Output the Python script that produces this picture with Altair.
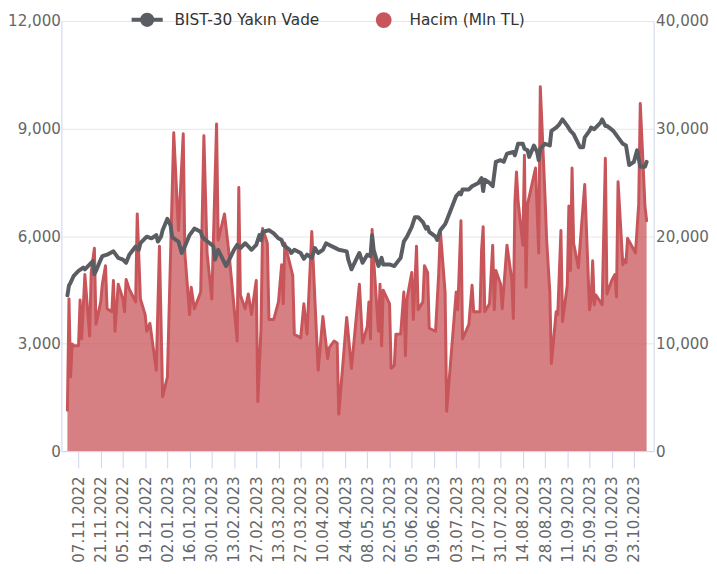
import altair as alt
import pandas as pd

BIST_NAME = "BIST-30 Yakın Vade"
VOL_NAME = "Hacim (Mln TL)"

bist_dates = [
    "2022-10-31", "2022-11-01", "2022-11-02", "2022-11-04", "2022-11-07", "2022-11-10", "2022-11-11",
    "2022-11-15", "2022-11-16", "2022-11-17", "2022-11-18", "2022-11-21", "2022-11-22", "2022-11-25",
    "2022-11-29", "2022-12-02", "2022-12-05", "2022-12-07", "2022-12-09", "2022-12-13", "2022-12-15",
    "2022-12-16", "2022-12-20", "2022-12-23", "2022-12-26", "2022-12-27", "2022-12-29", "2022-12-30",
    "2023-01-02", "2023-01-04", "2023-01-05", "2023-01-06", "2023-01-09", "2023-01-11", "2023-01-13",
    "2023-01-16", "2023-01-19", "2023-01-23", "2023-01-24", "2023-01-26", "2023-01-30", "2023-01-31",
    "2023-02-01", "2023-02-03", "2023-02-06", "2023-02-08", "2023-02-10", "2023-02-13", "2023-02-15",
    "2023-02-17", "2023-02-20", "2023-02-22", "2023-02-24", "2023-02-27", "2023-03-01", "2023-03-02",
    "2023-03-03", "2023-03-07", "2023-03-10", "2023-03-13", "2023-03-15", "2023-03-16", "2023-03-20",
    "2023-03-21", "2023-03-23", "2023-03-27", "2023-03-29", "2023-03-31", "2023-04-03", "2023-04-05",
    "2023-04-07", "2023-04-10", "2023-04-12", "2023-04-14", "2023-04-18", "2023-04-20", "2023-04-25",
    "2023-04-26", "2023-04-28", "2023-05-02", "2023-05-03", "2023-05-05", "2023-05-08", "2023-05-10",
    "2023-05-11", "2023-05-12", "2023-05-15", "2023-05-17", "2023-05-18", "2023-05-22", "2023-05-25",
    "2023-05-29", "2023-05-31", "2023-06-02", "2023-06-05", "2023-06-07", "2023-06-09", "2023-06-12",
    "2023-06-14", "2023-06-15", "2023-06-16", "2023-06-20", "2023-06-21", "2023-06-23", "2023-06-26",
    "2023-06-27", "2023-07-03", "2023-07-05", "2023-07-06", "2023-07-07", "2023-07-11", "2023-07-13",
    "2023-07-17", "2023-07-19", "2023-07-20", "2023-07-21", "2023-07-24", "2023-07-26", "2023-07-28",
    "2023-07-31", "2023-08-02", "2023-08-04", "2023-08-08", "2023-08-09", "2023-08-11", "2023-08-14",
    "2023-08-15", "2023-08-17", "2023-08-18", "2023-08-21", "2023-08-23", "2023-08-24", "2023-08-25",
    "2023-08-28", "2023-08-31", "2023-09-01", "2023-09-04", "2023-09-06", "2023-09-08", "2023-09-11",
    "2023-09-13", "2023-09-15", "2023-09-18", "2023-09-19", "2023-09-21", "2023-09-22", "2023-09-25",
    "2023-09-26", "2023-09-28", "2023-10-02", "2023-10-03", "2023-10-05", "2023-10-06", "2023-10-10",
    "2023-10-13", "2023-10-16", "2023-10-18", "2023-10-19", "2023-10-20", "2023-10-23", "2023-10-25",
    "2023-10-26", "2023-10-27", "2023-10-30", "2023-10-31",
]
bist_values = [
    4347, 4620, 4700, 4892, 5029, 5119, 5072,
    5255, 5301, 4936, 5029, 5345, 5438, 5481,
    5574, 5391, 5345, 5255, 5481, 5710, 5618,
    5800, 5983, 5937, 6027, 5847, 5983, 6163,
    6482, 6299, 5983, 5937, 5847, 5528, 5710,
    6027, 6209, 6119, 5983, 5890, 5754, 5710,
    5345, 5618, 5345, 5165, 5345, 5618, 5754,
    5664, 5800, 5710, 5618, 5754, 6027, 5890,
    6119, 6163, 6073, 5937, 5890, 5754, 5618,
    5528, 5618, 5528, 5364, 5481, 5391, 5664,
    5528, 5618, 5800, 5754, 5664, 5618, 5574,
    5345, 5072, 5438, 5528, 5255, 5481, 5438,
    6027, 5618, 5165, 5391, 5209, 5209, 5165,
    5391, 5847, 5983, 6256, 6528, 6528, 6392,
    6209, 6256, 6119, 5983, 5890, 6163, 6327,
    6436, 7117, 7210, 7164, 7300, 7300, 7390,
    7483, 7619, 7254, 7573, 7483, 7390, 8072,
    8118, 8072, 8301, 8345, 8255, 8574, 8574,
    8437, 8391, 8208, 8527, 8345, 8118, 8437,
    8574, 8527, 8936, 9026, 9119, 9255, 9073,
    8936, 8846, 8574, 8481, 8481, 8754, 8936,
    9026, 8983, 9163, 9255, 9073, 9073, 8936,
    8754, 8574, 8527, 8255, 7982, 8072, 8391,
    8165, 7936, 7936, 8072,
]

vol_dates = [
    "2022-10-31", "2022-11-01", "2022-11-02", "2022-11-03", "2022-11-04", "2022-11-07", "2022-11-08",
    "2022-11-09", "2022-11-11", "2022-11-14", "2022-11-15", "2022-11-17", "2022-11-18", "2022-11-21",
    "2022-11-22", "2022-11-24", "2022-11-25", "2022-11-28", "2022-11-29", "2022-11-30", "2022-12-02",
    "2022-12-05", "2022-12-06", "2022-12-07", "2022-12-09", "2022-12-13", "2022-12-14", "2022-12-16",
    "2022-12-19", "2022-12-20", "2022-12-22", "2022-12-26", "2022-12-28", "2022-12-30", "2023-01-02",
    "2023-01-06", "2023-01-09", "2023-01-12", "2023-01-13", "2023-01-16", "2023-01-17", "2023-01-19",
    "2023-01-23", "2023-01-25", "2023-01-26", "2023-01-27", "2023-01-30", "2023-02-02", "2023-02-03",
    "2023-02-07", "2023-02-10", "2023-02-15", "2023-02-16", "2023-02-17", "2023-02-20", "2023-02-22",
    "2023-02-24", "2023-02-27", "2023-02-28", "2023-03-02", "2023-03-03", "2023-03-06", "2023-03-07",
    "2023-03-10", "2023-03-13", "2023-03-15", "2023-03-16", "2023-03-17", "2023-03-22", "2023-03-23",
    "2023-03-27", "2023-03-29", "2023-03-31", "2023-04-03", "2023-04-07", "2023-04-10", "2023-04-13",
    "2023-04-14", "2023-04-17", "2023-04-19", "2023-04-20", "2023-04-25", "2023-04-28", "2023-05-03",
    "2023-05-05", "2023-05-08", "2023-05-09", "2023-05-10", "2023-05-11", "2023-05-12", "2023-05-15",
    "2023-05-16", "2023-05-17", "2023-05-18", "2023-05-22", "2023-05-23", "2023-05-25", "2023-05-26",
    "2023-05-29", "2023-05-31", "2023-06-01", "2023-06-02", "2023-06-05", "2023-06-06", "2023-06-08",
    "2023-06-09", "2023-06-12", "2023-06-13", "2023-06-15", "2023-06-16", "2023-06-20", "2023-06-22",
    "2023-06-23", "2023-06-26", "2023-06-27", "2023-07-03", "2023-07-04", "2023-07-06", "2023-07-07",
    "2023-07-11", "2023-07-13", "2023-07-14", "2023-07-18", "2023-07-19", "2023-07-20", "2023-07-21",
    "2023-07-24", "2023-07-26", "2023-07-27", "2023-07-28", "2023-07-31", "2023-08-01", "2023-08-04",
    "2023-08-07", "2023-08-08", "2023-08-09", "2023-08-10", "2023-08-11", "2023-08-14", "2023-08-15",
    "2023-08-16", "2023-08-17", "2023-08-22", "2023-08-24", "2023-08-25", "2023-08-28", "2023-08-29",
    "2023-08-31", "2023-09-01", "2023-09-04", "2023-09-05", "2023-09-07", "2023-09-08", "2023-09-11",
    "2023-09-12", "2023-09-13", "2023-09-14", "2023-09-15", "2023-09-18", "2023-09-20", "2023-09-22",
    "2023-09-25", "2023-09-26", "2023-09-27", "2023-09-28", "2023-09-29", "2023-10-03", "2023-10-05",
    "2023-10-06", "2023-10-09", "2023-10-11", "2023-10-12", "2023-10-13", "2023-10-16", "2023-10-17",
    "2023-10-18", "2023-10-19", "2023-10-23", "2023-10-24", "2023-10-26", "2023-10-27", "2023-10-30",
    "2023-10-31",
]
vol_values = [
    3800, 14150, 6900, 9970, 9800, 9800, 14060,
    10430, 16430, 10700, 16600, 18880, 11790, 13880,
    15520, 17240, 13240, 12970, 15880, 11150, 15520,
    14150, 12970, 15970, 15060, 13880, 22060, 14150,
    12700, 11150, 11880, 7520, 19060, 5060, 6880,
    29610, 20520, 29520, 18430, 12700, 15240, 13240,
    14790, 29330, 23880, 18430, 14150, 30420, 19610,
    22060, 18150, 10240, 24520, 14520, 13240, 14610,
    12700, 15880, 4610, 11430, 20700, 19330, 12240,
    12240, 13880, 17330, 13700, 19330, 16330, 10880,
    10520, 13700, 10880, 20430, 7520, 12520, 8610,
    9610, 10240, 10060, 3430, 12430, 7700, 15520,
    10060, 11610, 13880, 10430, 20610, 17790, 11150,
    15520, 9790, 14970, 13700, 7700, 7970, 10880,
    10880, 14790, 8880, 14150, 16610, 12240, 19060,
    13150, 13880, 17240, 16610, 11430, 11150, 16610,
    20520, 14790, 3700, 14790, 13150, 21430, 10430,
    11790, 15430, 12970, 12970, 18700, 20880, 12970,
    13700, 19150, 13150, 16790, 15520, 13240, 19150,
    15970, 12340, 23240, 25970, 23240, 19150, 27520,
    15240, 22970, 26330, 18430, 33880, 23610, 19610,
    14790, 8150, 12970, 12700, 20520, 12060, 15430,
    22790, 16790, 26330, 19330, 17060, 20970, 24790,
    13150, 14060, 17700, 13610, 14520, 13610, 27240,
    14610, 15880, 16430, 14340, 25060, 17330, 17790,
    17520, 19790, 18700, 18430, 22970, 32330, 22700,
    21430,
]

tick_dates = [
    "2022-11-07", "2022-11-21", "2022-12-05", "2022-12-19", "2023-01-02", "2023-01-16",
    "2023-01-30", "2023-02-13", "2023-02-27", "2023-03-13", "2023-03-27", "2023-04-10",
    "2023-04-24", "2023-05-08", "2023-05-22", "2023-06-05", "2023-06-19", "2023-07-03",
    "2023-07-17", "2023-07-31", "2023-08-14", "2023-08-28", "2023-09-11", "2023-09-25",
    "2023-10-09", "2023-10-23",
]
left_ticks = [0, 3000, 6000, 9000, 12000]
right_ticks = [0, 10000, 20000, 30000, 40000]

GRAY = "#5a5d62"
RED = "#c8555a"
AXIS_BLUE = "#ccd6eb"
FONT = "DejaVu Sans"


def dt(s, h=0):
    y, m, d = (int(p) for p in s.split("-"))
    return alt.DateTime(year=y, month=m, date=d, hours=h, utc=True)


bist_df = pd.DataFrame({"Tarih": bist_dates, "Deger": bist_values, "Seri": BIST_NAME})
vol_df = pd.DataFrame({"Tarih": vol_dates, "Deger": vol_values, "Seri": VOL_NAME})

x_enc = alt.X(
    "Tarih:T",
    title=None,
    scale=alt.Scale(type="utc", domain=[dt("2022-10-27", 5), dt("2023-11-04", 10)]),
    axis=alt.Axis(
        values=[dt(s) for s in tick_dates],
        labelExpr="utcFormat(datum.value, '%d.%m.%Y')",
        labelAngle=270,
        labelFlush=False,
        labelOverlap=False,
        grid=False,
        tickSize=17,
        tickColor=AXIS_BLUE,
        domainColor=AXIS_BLUE,
        labelPadding=8,
        zindex=1,
    ),
)

legend_common = dict(
    title=None,
    orient="none",
    direction="horizontal",
    labelFontSize=15.5,
    labelColor="#333333",
    labelFont=FONT,
    symbolOpacity=1,
)

bist_legend = alt.Legend(
    legendX=79,
    legendY=-9,
    symbolSize=110,
    labelOffset=20,
    symbolType="M-3,0L3,0M1,0A1,1,0,1,1,-1,0A1,1,0,1,1,1,0",
    symbolFillColor=GRAY,
    symbolStrokeColor=GRAY,
    symbolStrokeWidth=4,
    **legend_common,
)
vol_legend = alt.Legend(
    legendX=318,
    legendY=-9,
    symbolSize=256,
    labelOffset=18,
    symbolType="circle",
    symbolFillColor=RED,
    symbolStrokeWidth=0,
    **legend_common,
)

area = alt.Chart(vol_df).mark_area(
    fillOpacity=0.75,
    line=alt.OverlayMarkDef(strokeWidth=3, strokeJoin="round", strokeCap="round"),
).encode(
    x=x_enc,
    y=alt.Y(
        "Deger:Q",
        title=None,
        scale=alt.Scale(domain=[0, 40000], nice=False),
        axis=alt.Axis(
            orient="right",
            values=right_ticks,
            format=",.0f",
            grid=False,
            ticks=False,
            domainColor=AXIS_BLUE,
            labelPadding=2,
        ),
    ),
    color=alt.Color("Seri:N", scale=alt.Scale(domain=[VOL_NAME], range=[RED]), legend=vol_legend),
)

line = alt.Chart(bist_df).mark_line(strokeWidth=4, strokeJoin="round", strokeCap="round").encode(
    x=x_enc,
    y=alt.Y(
        "Deger:Q",
        title=None,
        scale=alt.Scale(domain=[0, 12000], nice=False),
        axis=alt.Axis(
            orient="left",
            values=left_ticks,
            format=",.0f",
            grid=True,
            gridColor="#e6e6e6",
            gridWidth=1,
            ticks=False,
            domainColor=AXIS_BLUE,
            labelPadding=1,
        ),
    ),
    stroke=alt.Stroke("Seri:N", scale=alt.Scale(domain=[BIST_NAME], range=[GRAY]), legend=bist_legend),
)

chart = (
    alt.layer(area, line)
    .resolve_scale(y="independent")
    .properties(
        width=599,
        height=435,
        padding={"left": 54, "top": 10, "right": 56, "bottom": 112},
        autosize=alt.AutoSizeParams(type="none"),
    )
    .configure(font=FONT)
    .configure_axis(labelFont=FONT, labelFontSize=15.3, labelColor="#666666")
    .configure_view(stroke=None)
)

chart.save("out.html", embed_options={"renderer": "svg", "actions": False})
